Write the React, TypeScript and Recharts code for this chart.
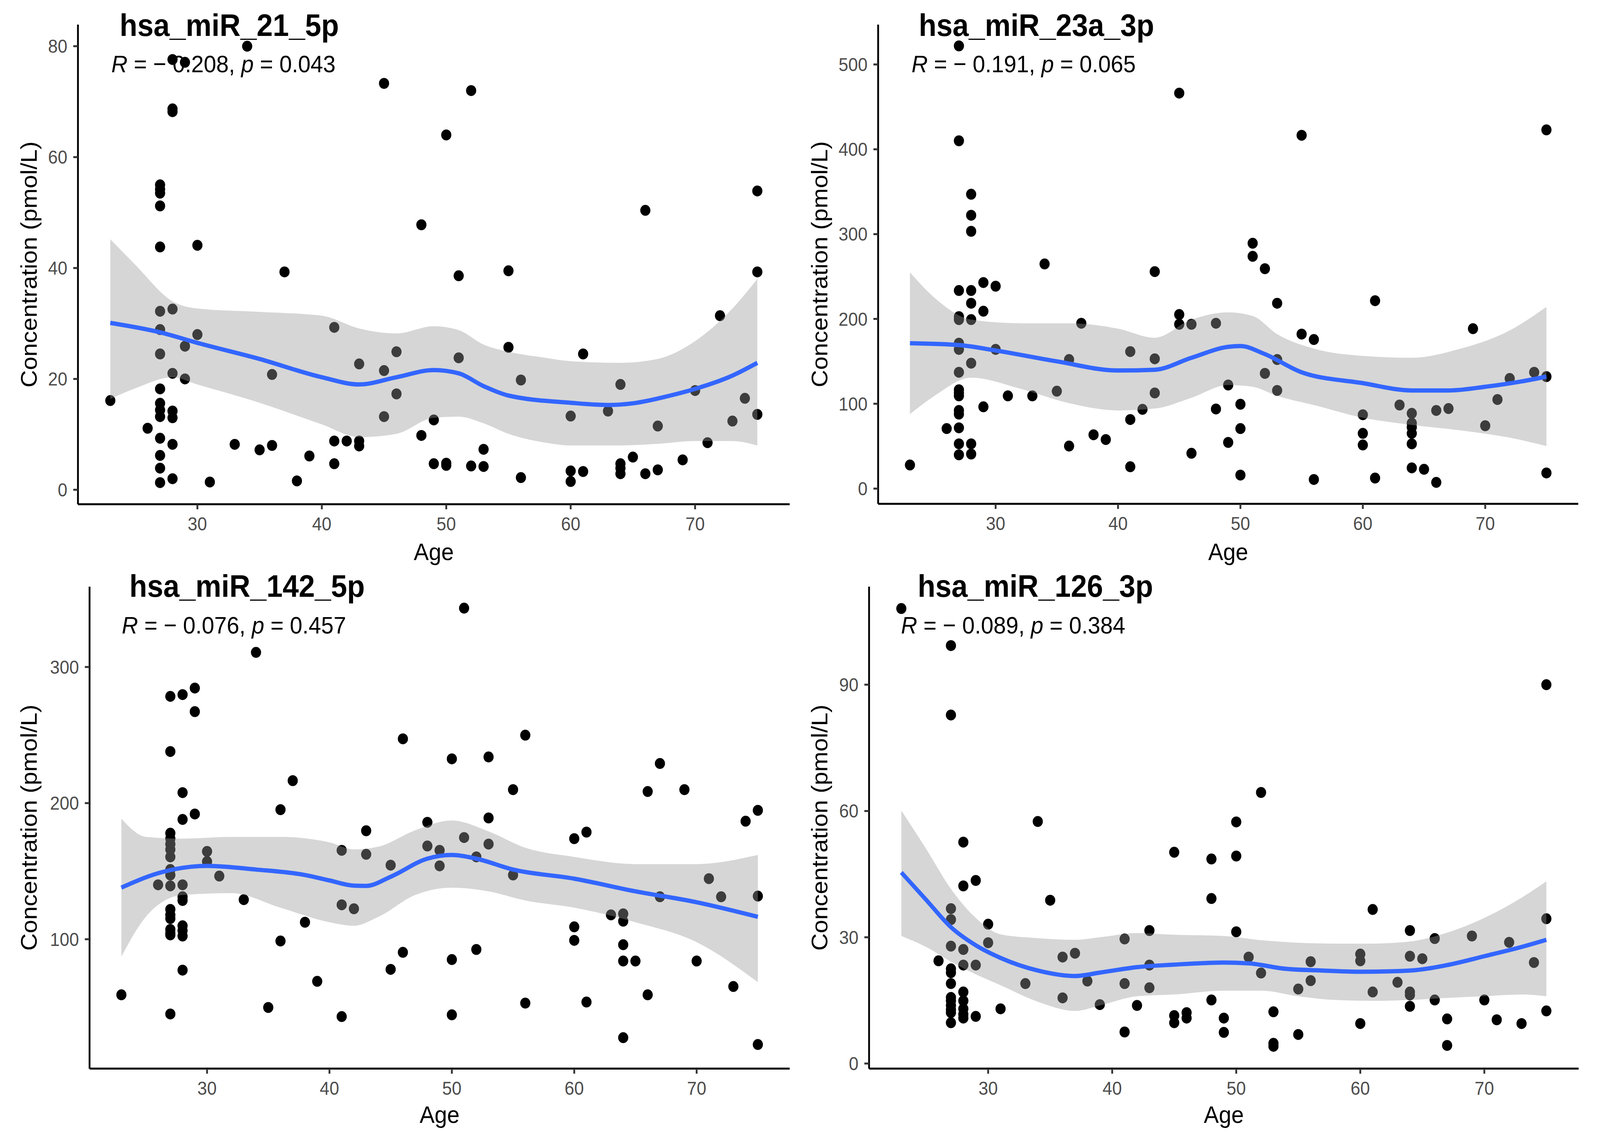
import { ComposedChart, XAxis, YAxis, Scatter, Line, Area } from "recharts"

// age ticks shared by every panel
const ageTicks = [30, 40, 50, 60, 70]

// hsa_miR_21_5p : [age, concentration]
const mir21Points = [
  [23, 16.1], [26, 11.1],
  [27, 55.0], [27, 54.2], [27, 53.5], [27, 51.2], [27, 43.8], [27, 32.2], [27, 28.9], [27, 24.5],
  [27, 18.2], [27, 15.6], [27, 14.4], [27, 13.2], [27, 9.3], [27, 6.2], [27, 3.9], [27, 1.3],
  [28, 77.6], [28, 68.7], [28, 68.2], [28, 32.6], [28, 21.0], [28, 14.2], [28, 13.0], [28, 8.2], [28, 2.0],
  [29, 77.1], [29, 25.9], [29, 20.0], [30, 44.1], [30, 28.0], [31, 1.4], [33, 8.2], [34, 80.0],
  [35, 7.2], [36, 8.0], [36, 20.8], [37, 39.3], [38, 1.6], [39, 6.1], [41, 29.3], [41, 8.8], [41, 4.7],
  [42, 8.8], [43, 22.7], [43, 8.8], [43, 7.9], [45, 73.3], [45, 21.5], [45, 13.2], [46, 24.9], [46, 17.3],
  [48, 47.8], [48, 9.8], [49, 12.6], [49, 4.7], [50, 64.0], [50, 4.8], [50, 4.4], [51, 38.6], [51, 23.8],
  [52, 72.0], [52, 4.3], [53, 7.3], [53, 4.2], [55, 39.5], [55, 25.7], [56, 19.8], [56, 2.2],
  [60, 13.3], [60, 3.4], [60, 1.5], [61, 24.5], [61, 3.3], [63, 14.2], [64, 19.0], [64, 4.7], [64, 3.9],
  [64, 2.9], [65, 5.9], [66, 50.4], [66, 2.9], [67, 11.5], [67, 3.6], [69, 5.4], [70, 17.9], [71, 8.5],
  [72, 31.4], [73, 12.4], [74, 16.5], [75, 53.9], [75, 39.3], [75, 13.6],
]
const mir21Fit = [
  [23, 30.1], [27, 28.4], [30, 26.5], [35, 23.6], [40, 20.3], [43, 19.0], [46, 20.3], [49, 21.6],
  [51, 21.0], [53, 18.7], [55, 17.0], [60, 15.7], [63, 15.3], [65, 15.6], [68, 17.0], [70, 18.2],
  [73, 20.6], [75, 22.9],
]
const mir21Band = [
  [23, 16.4, 45.2], [25, 18.3, 40.6], [28, 20.3, 34.0], [30, 19.0, 32.7], [35, 15.7, 32.1],
  [40, 11.8, 31.4], [43, 9.5, 29.1], [46, 10.1, 28.2], [49, 13.0, 29.5], [51, 13.2, 28.8],
  [53, 12.0, 26.2], [55, 10.1, 24.9], [58, 8.5, 23.8], [60, 8.0, 23.2], [64, 8.0, 22.9],
  [67, 8.3, 23.6], [70, 8.8, 26.8], [73, 8.8, 32.7], [75, 8.0, 38.0],
]
const mir21Ticks = [0, 20, 40, 60, 80]

// hsa_miR_23a_3p
const mir23Points = [
  [23, 27.8], [26, 70.7],
  [27, 521.9], [27, 410], [27, 233.5], [27, 202.7], [27, 199.2], [27, 171.4], [27, 164.1], [27, 137.1],
  [27, 116.5], [27, 112.7], [27, 109.3], [27, 92.1], [27, 87.8], [27, 71.6], [27, 52.7], [27, 39.8],
  [28, 347], [28, 322.2], [28, 303.3], [28, 233.5], [28, 218.5], [28, 199.2], [28, 147.8], [28, 52.7], [28, 40.7],
  [29, 242.9], [29, 209.1], [29, 96.4], [30, 238.6], [30, 164.1], [31, 109.3], [33, 109.3], [34, 264.8],
  [35, 114.8], [36, 152.1], [36, 50.1], [37, 194.9], [38, 63.4], [39, 57.8], [41, 161.5], [41, 81.4],
  [41, 25.7], [42, 93.4], [43, 255.8], [43, 153], [43, 112.7], [45, 466.2], [45, 205.2], [45, 193.7],
  [46, 193.7], [46, 41.6], [48, 194.9], [48, 93.8], [49, 122.1], [49, 54.4], [50, 99.4], [50, 70.7],
  [50, 15.9], [51, 289.2], [51, 273.8], [52, 259.2], [52, 135.8], [53, 218.5], [53, 152.1], [53, 115.7],
  [55, 416.5], [55, 182.1], [56, 175.7], [56, 10.7], [60, 87], [60, 65.1], [60, 51.4], [61, 221.5],
  [61, 12.4], [63, 98.5], [64, 88.7], [64, 77.1], [64, 72.4], [64, 65.1], [64, 52.7], [64, 24.4],
  [65, 22.7], [66, 92.1], [66, 7.3], [67, 94.3], [69, 188.5], [70, 74.1], [71, 105], [72, 129.8],
  [74, 137.1], [75, 422.9], [75, 132], [75, 18.4],
]
const mir23Fit = [
  [23, 171.4], [27, 169.2], [30, 162.8], [35, 150], [40, 139.2], [43, 140.1], [46, 154.2], [49, 167.1],
  [50, 168], [52, 158.5], [55, 137.1], [60, 124.3], [64, 115.7], [67, 115.7], [70, 120], [73, 126.4],
  [75, 132],
]
const mir23Band = [
  [23, 87.8, 254.9], [25, 109.3, 225], [28, 130.7, 199.2], [32, 117.8, 194.9], [36, 100.7, 194.9],
  [40, 92.1, 188.5], [43, 94.3, 177.8], [46, 107.1, 199.2], [49, 122.1, 207.8], [51, 120, 203.5],
  [53, 109.3, 182.1], [56, 98.5, 165], [60, 83.5, 156.4], [64, 75, 154.2], [68, 68.6, 165],
  [72, 60, 186.4], [75, 50.1, 214.2],
]
const mir23Ticks = [0, 100, 200, 300, 400, 500]

// hsa_miR_142_5p
const mir142Points = [
  [23, 59.2], [26, 140],
  [27, 278.4], [27, 237.9], [27, 177.9], [27, 173.9], [27, 169.9], [27, 165.9], [27, 160.5], [27, 151.2],
  [27, 147.2], [27, 139.2], [27, 121.9], [27, 117.9], [27, 115.2], [27, 107.2], [27, 104.5], [27, 103.2], [27, 45.1],
  [28, 279.7], [28, 207.7], [28, 188], [28, 140], [28, 131.2], [28, 128.5], [28, 109.9], [28, 106.4],
  [28, 102.4], [28, 77.3], [29, 284.5], [29, 267.2], [29, 192], [30, 164.5], [30, 157.1], [31, 146.4],
  [33, 129.1], [34, 310.7], [35, 49.9], [36, 195.2], [36, 98.7], [37, 216.5], [38, 112.5], [39, 69.1],
  [41, 165.3], [41, 125.3], [41, 43.2], [42, 122.4], [43, 179.7], [43, 162.4], [45, 154.4], [45, 77.9],
  [46, 247.2], [46, 90.4], [48, 185.9], [48, 168.5], [49, 165.3], [49, 153.9], [50, 232.5], [50, 85.1],
  [50, 44.5], [51, 343.2], [51, 174.7], [52, 160.5], [52, 92.5], [53, 233.9], [53, 189.1], [53, 169.9],
  [55, 209.9], [55, 147.2], [56, 249.9], [56, 53.1], [60, 173.9], [60, 109.1], [60, 99.2], [61, 178.7],
  [61, 53.9], [63, 117.9], [64, 118.7], [64, 113.3], [64, 96], [64, 84], [64, 27.7], [65, 84],
  [66, 208.5], [66, 59.2], [67, 229.1], [67, 131.2], [69, 209.9], [70, 84], [71, 144.5], [72, 131.2],
  [73, 65.3], [74, 186.7], [75, 194.7], [75, 131.7], [75, 22.7],
]
const mir142Fit = [
  [23, 137.9], [26, 148.5], [28, 152.5], [30, 153.9], [34, 151.2], [38, 147.2], [40, 143.2], [42, 139.4],
  [43, 139.2], [45, 145.9], [48, 159.2], [50, 161.9], [52, 159.2], [55, 151.2], [60, 144.5], [65, 135.2],
  [70, 127.2], [75, 116.5],
]
const mir142Band = [
  [23, 87.2, 188.5], [25, 116.5, 175.2], [28, 132.5, 173.9], [32, 133.9, 175.2], [36, 123.2, 175.2],
  [40, 112.5, 171.2], [42, 109.9, 166], [44, 116.5, 168], [47, 132.5, 180], [50, 137.9, 187.2],
  [53, 135.2, 179.2], [56, 128.5, 167.2], [60, 123.2, 160.5], [65, 112.5, 155.2], [70, 97.9, 155.2],
  [75, 68.5, 161.9],
]
const mir142Ticks = [100, 200, 300]

// hsa_miR_126_3p
const mir126Points = [
  [23, 108.1], [26, 24.4],
  [27, 99.3], [27, 82.8], [27, 36.8], [27, 34.2], [27, 27.9], [27, 22.5], [27, 21.6], [27, 19],
  [27, 15.7], [27, 14.9], [27, 13.8], [27, 12.8], [27, 12.1], [27, 9.7],
  [28, 52.6], [28, 42.2], [28, 27.1], [28, 23.4], [28, 17], [28, 14.9], [28, 13], [28, 11.7], [28, 10.8],
  [29, 43.5], [29, 23.4], [29, 11.2], [30, 33.1], [30, 28.7], [31, 13], [33, 19], [34, 57.5], [35, 38.8],
  [36, 25.3], [36, 15.6], [37, 26.2], [38, 19.6], [39, 14], [41, 29.6], [41, 19], [41, 7.5], [42, 13.8],
  [43, 31.6], [43, 23.4], [43, 18], [45, 50.2], [45, 11.4], [45, 9.7], [46, 12.1], [46, 10.8], [48, 48.6],
  [48, 39.2], [48, 15.1], [49, 10.8], [49, 7.4], [50, 57.4], [50, 49.3], [50, 31.3], [51, 25.3], [52, 64.4],
  [52, 21.5], [53, 12.3], [53, 4.8], [53, 4.1], [55, 17.7], [55, 6.9], [56, 24.2], [56, 19.7], [60, 26],
  [60, 24.4], [60, 9.5], [61, 36.6], [61, 17], [63, 19.3], [64, 31.6], [64, 25.5], [64, 17], [64, 16.3],
  [64, 13.6], [65, 24.9], [66, 29.7], [66, 15.1], [67, 10.6], [67, 4.3], [69, 30.3], [70, 15.1], [71, 10.4],
  [72, 28.8], [73, 9.5], [74, 24], [75, 90], [75, 34.4], [75, 12.5],
]
const mir126Fit = [
  [23, 45.4], [25, 38.9], [27, 32.4], [29, 28.1], [31, 25.1], [34, 22.1], [37, 20.8], [39, 21.6],
  [42, 22.9], [45, 23.5], [49, 24], [51, 23.8], [54, 22.5], [57, 22.1], [60, 21.8], [64, 22.1],
  [67, 23.4], [70, 25.5], [73, 27.7], [75, 29.4],
]
const mir126Band = [
  [23, 30.3, 60.1], [25, 27.7, 51], [27, 24.2, 41.5], [29, 21.2, 34.6], [31, 18.6, 30.7], [34, 14.7, 29.8],
  [37, 12.5, 29.4], [39, 13.8, 30], [42, 16, 31], [45, 16.4, 30.6], [49, 17.3, 30.3], [52, 17.3, 29.3],
  [55, 16, 28.7], [58, 15.1, 28.5], [61, 14.9, 28.5], [64, 15.1, 29], [67, 15.6, 31.1], [70, 16, 34.6],
  [73, 16.4, 39.4], [75, 16, 43.3],
]
const mir126Ticks = [0, 30, 60, 90]

const panels = [
  {
    title: "hsa_miR_21_5p", r: "0.208", p: "0.043",
    points: mir21Points, fit: mir21Fit, band: mir21Band, yTicks: mir21Ticks, yDomain: [-2.6, 83.9],
    plot: { left: 215, top: 63, right: 2178, bottom: 1291 },
    titleAt: [330, 92], statAt: [307, 185], yLabelX: 101, xLabelY: 1434,
  },
  {
    title: "hsa_miR_23a_3p", r: "0.191", p: "0.065",
    points: mir23Points, fit: mir23Fit, band: mir23Band, yTicks: mir23Ticks, yDomain: [-18, 547],
    plot: { left: 2422, top: 63, right: 4353, bottom: 1290 },
    titleAt: [2534, 92], statAt: [2514, 185], yLabelX: 2282, xLabelY: 1434,
  },
  {
    title: "hsa_miR_142_5p", r: "0.076", p: "0.457",
    points: mir142Points, fit: mir142Fit, band: mir142Band, yTicks: mir142Ticks, yDomain: [5, 359],
    plot: { left: 247, top: 1502, right: 2178, bottom: 2736 },
    titleAt: [357, 1528], statAt: [336, 1622], yLabelX: 101, xLabelY: 2875,
  },
  {
    title: "hsa_miR_126_3p", r: "0.089", p: "0.384",
    points: mir126Points, fit: mir126Fit, band: mir126Band, yTicks: mir126Ticks, yDomain: [-1.2, 113.3],
    plot: { left: 2397, top: 1502, right: 4354, bottom: 2736 },
    titleAt: [2531, 1528], statAt: [2485, 1622], yLabelX: 2282, xLabelY: 2875,
  },
]

const PAGE_W = 4413
const PAGE_H = 2906
const Y_AXIS_W = 200
const X_AXIS_H = 120
const RIGHT_PAD = 30

const Dot = (props: any) => <circle cx={props.cx} cy={props.cy} r={14} fill="#000000" />

function buildRows(fit: number[][], band: number[][]) {
  const byAge = new Map<number, any>()
  fit.forEach(([age, v]) => byAge.set(age, { ...(byAge.get(age) || { age }), fit: v }))
  band.forEach(([age, lo, hi]) => byAge.set(age, { ...(byAge.get(age) || { age }), band: [lo, hi] }))
  return [...byAge.values()].sort((a, b) => a.age - b.age)
}

function Panel({ panel }: { panel: any }) {
  const { plot } = panel
  const width = plot.right - plot.left + Y_AXIS_W + RIGHT_PAD
  const height = plot.bottom - plot.top + X_AXIS_H
  const rows = buildRows(panel.fit, panel.band)
  const pts = panel.points.map(([age, conc]: number[]) => ({ age, conc }))

  return (
    <div style={{ position: "absolute", left: plot.left - Y_AXIS_W, top: plot.top }}>
      <ComposedChart width={width} height={height} data={rows} margin={{ top: 0, right: RIGHT_PAD, bottom: 0, left: 0 }}>
        <XAxis
          type="number"
          dataKey="age"
          domain={[20.4, 77.6]}
          ticks={ageTicks}
          interval={0}
          allowDataOverflow
          height={X_AXIS_H}
          tickSize={13}
          tickMargin={20}
          axisLine={{ stroke: "#000000", strokeWidth: 5 }}
          tickLine={{ stroke: "#333333", strokeWidth: 5 }}
          tick={{ fill: "#4D4D4D", fontSize: 48 }}
        />
        <YAxis
          type="number"
          domain={panel.yDomain}
          ticks={panel.yTicks}
          interval={0}
          allowDataOverflow
          width={Y_AXIS_W}
          tickSize={13}
          tickMargin={16}
          axisLine={{ stroke: "#000000", strokeWidth: 5 }}
          tickLine={{ stroke: "#333333", strokeWidth: 5 }}
          tick={{ fill: "#4D4D4D", fontSize: 48 }}
        />
        <Scatter data={pts} dataKey="conc" shape={Dot} isAnimationActive={false} zIndex={50} />
        <Area
          type="monotone"
          dataKey="band"
          fill="#999999"
          fillOpacity={0.4}
          stroke="none"
          connectNulls
          isAnimationActive={false}
        />
        <Line
          type="monotone"
          dataKey="fit"
          stroke="#3366FF"
          strokeWidth={11}
          dot={false}
          connectNulls
          isAnimationActive={false}
        />
      </ComposedChart>
    </div>
  )
}

export default function App() {
  // the browser viewport can be narrower than the 4413px design; squeeze the page to fit it
  const vw = typeof window !== "undefined" ? window.innerWidth : PAGE_W
  const vh = typeof window !== "undefined" ? window.innerHeight : PAGE_H
  const sx = Math.min(vw / PAGE_W, 1)
  const sy = Math.min(vh / PAGE_H, 1)

  return (
    <div style={{ width: PAGE_W * sx, height: PAGE_H * sy, overflow: "hidden" }}>
      <style>{"html,body{margin:0;overflow:hidden}"}</style>
      <div
        style={{
          position: "relative",
          width: PAGE_W,
          height: PAGE_H,
          background: "#ffffff",
          fontFamily: "'Liberation Sans', Arial, Helvetica, sans-serif",
          transform: `scale(${sx}, ${sy})`,
          transformOrigin: "0 0",
        }}
      >
        {panels.map((panel) => (
          <Panel key={panel.title} panel={panel} />
        ))}

        {/* titles, stats and axis titles */}
        <svg width={PAGE_W} height={PAGE_H} style={{ position: "absolute", left: 0, top: 0, pointerEvents: "none" }}>
          {panels.map((panel) => {
            const midX = (panel.plot.left + panel.plot.right) / 2
            const midY = (panel.plot.top + panel.plot.bottom) / 2
            return (
              <g key={panel.title}>
                <text x={panel.titleAt[0]} y={panel.titleAt[1]} fontSize={80} fontWeight="bold" fill="#000000">
                  {panel.title}
                </text>
                <text x={panel.statAt[0]} y={panel.statAt[1]} fontSize={62} fill="#000000">
                  <tspan fontStyle="italic">R</tspan>
                  {" = \u2212 " + panel.r + ", "}
                  <tspan fontStyle="italic">p</tspan>
                  {" = " + panel.p}
                </text>
                <text
                  x={panel.yLabelX}
                  y={midY}
                  fontSize={62}
                  textAnchor="middle"
                  fill="#000000"
                  transform={`rotate(-90, ${panel.yLabelX}, ${midY})`}
                >
                  Concentration (pmol/L)
                </text>
                <text x={midX} y={panel.xLabelY} fontSize={62} textAnchor="middle" fill="#000000">
                  Age
                </text>
              </g>
            )
          })}
        </svg>
      </div>
    </div>
  )
}
